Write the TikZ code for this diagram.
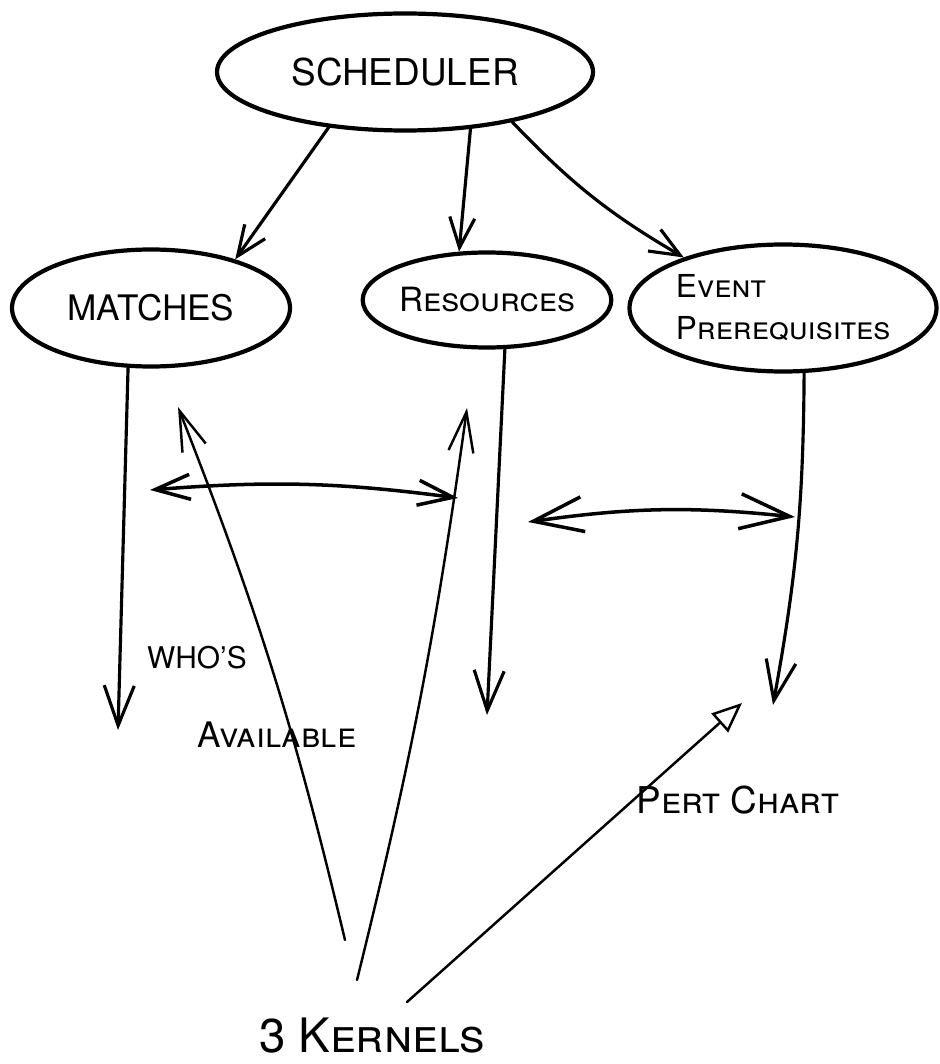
\documentclass[tikz,border=0pt]{standalone}
\usepackage{fontspec}
\setmainfont{TeX Gyre Heros}
\usetikzlibrary{shapes.geometric}
\usetikzlibrary{arrows.meta}

\begin{document}
\begin{tikzpicture}[x=0.2mm,y=0.2mm,line cap=round,line join=round]
\tikzstyle{oval node}=[ellipse,draw,line width=2.4pt,inner sep=0]
\tikzstyle{note node}=[inner sep=0,align=left]
\tikzset{
  top arrow/.style = {line width=1.8pt,-{Straight Barb[length=6mm,width=5mm]}},
  down arrow/.style = {line width=1.8pt,-{Straight Barb[length=8mm,width=6mm]}},
  both arrow/.style = {line width=2pt,{Straight Barb[length=7mm,width=5mm]}-{Straight Barb[length=7mm,width=5mm]}},
  kern arrow/.style = {line width=1.4pt,-{Straight Barb[length=8mm,width=5mm]}}
}
\useasboundingbox (0,0) rectangle (939,-1064);

    \node[oval node,minimum width=75.2mm,minimum height=23.4mm,font=\fontsize{21}{24}\selectfont] (sched) at (405,-72) {SCHEDULER};
    \node[oval node,minimum width=55.6mm,minimum height=23.4mm,font=\fontsize{20}{24}\selectfont] (match) at (151,-308) {MATCHES};
    \node[oval node,minimum width=49mm,minimum height=19mm,font=\fontsize{19}{24}\selectfont\scshape] (res) at (487,-300) {Resources};
    \node[oval node,minimum width=61.4mm,minimum height=25.4mm,align=left,font=\fontsize{18}{24}\selectfont\scshape] (event) at (783,-308) {Event\\Prerequisites};
    %%%%%%%%%%%%%%%%%%%%%%%%%%%%%%%%%%
    \node[note node,font=\fontsize{17}{20}\selectfont] (whos) at (197,-658) {WHO'S};
    \node[note node,font=\fontsize{20}{24}\selectfont\scshape] (avail) at (277,-735) {Available};
    \node[note node,font=\fontsize{21}{24}\selectfont\scshape] (pert) at (738,-800) {Pert Chart};
    \node[note node,font=\fontsize{27}{30}\selectfont\scshape] (kern) at (372,-1036) {3 Kernels};

    \coordinate (mdown) at (118,-730);
    \coordinate (rdown) at (487,-715);
    \coordinate (edown) at (773,-705);
    \coordinate (mr1) at (150,-490);
    \coordinate (mr2) at (458,-498);
    \coordinate (rp1) at (528,-522);
    \coordinate (rp2) at (795,-517);
    \coordinate (k1) at (345,-940);
    \coordinate (k2) at (357,-980);
    \coordinate (k3) at (407,-1002);
    \coordinate (t1) at (178,-407);
    \coordinate (t2) at (467,-408);
    \coordinate (t3) at (742,-703);

    \path
      (sched.216) edge[top arrow] (match.30)
      (sched.319) edge[top arrow] (res.120)
      (sched.335) edge[top arrow,bend right=8] (event.153)
      (match.249) edge[down arrow] (mdown)
      (res.290) edge[down arrow] (rdown)
      (event.288) edge[down arrow,bend left=5] (edown)
      (mr1) edge[both arrow,bend left=6] (mr2)
      (rp1) edge[both arrow,bend left=7,{Straight Barb[length=10mm,width=7mm]}-{Straight Barb[length=10mm,width=7mm]}] (rp2)
      %%%%%%%%%%%%%%%%%%%
      (k1) edge[kern arrow,bend right=4] (t1)
      (k2) edge[kern arrow,bend right=3] (t2)
      (k3) edge[kern arrow,-{Triangle[open,length=6mm,width=5mm]}] (t3)
    ;
\end{tikzpicture}
\end{document}
